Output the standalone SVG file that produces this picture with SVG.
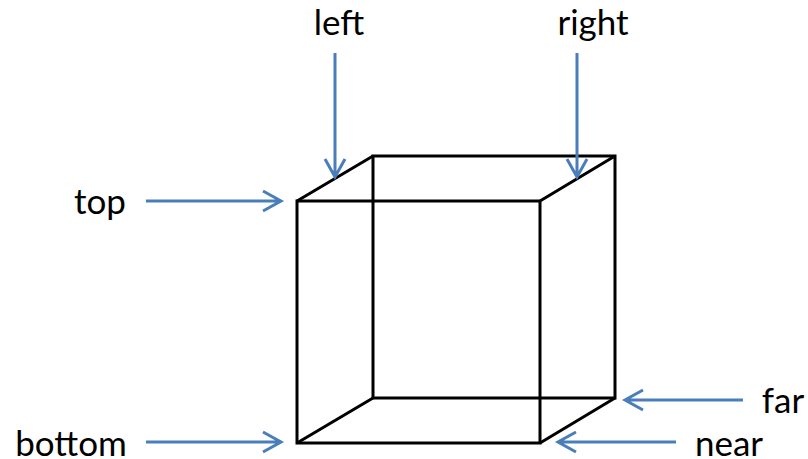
<svg xmlns="http://www.w3.org/2000/svg" width="808" height="459" viewBox="0 0 808 459">
<style>
.e{fill:none;stroke:#000;stroke-width:3;stroke-linejoin:miter}
.a{fill:none;stroke:#4a7ebb;stroke-width:3}
text{font-family:"Lato","Open Sans",sans-serif;font-size:35px;fill:#000}
</style>
<rect width="808" height="459" fill="#fff"/>
<g id="cube">
<path class="e" d="M297 201H540V443H297Z"/>
<path class="e" d="M373 156H615V398H373Z"/>
<path class="e" d="M297 201L373 156M540 201L615 156M297 443L373 398M540 443L615 398"/>
</g>
<g id="connectors">
<path class="a" d="M335 53V176M325 159L335 177L345 159"/>
<path class="a" d="M577 53V176M567 159L577 177L587 159"/>
<path class="a" d="M146 201H281M263 191L281 201L263 211"/>
<path class="a" d="M146 442H281M263 432L281 442L263 452"/>
<path class="a" d="M743 400H625M643 390L625 400L643 410"/>
<path class="a" d="M676 442H558M576 432L558 442L576 452"/>
</g>
<g id="label-left"><text x="339" y="35" text-anchor="middle">left</text></g>
<g id="label-right"><text x="593" y="35" text-anchor="middle">right</text></g>
<g id="label-top"><text x="100" y="214" text-anchor="middle">top</text></g>
<g id="label-bottom"><text x="71" y="456" text-anchor="middle">bottom</text></g>
<g id="label-far"><text x="783" y="413" text-anchor="middle">far</text></g>
<g id="label-near"><text x="729" y="456" text-anchor="middle">near</text></g>
</svg>
